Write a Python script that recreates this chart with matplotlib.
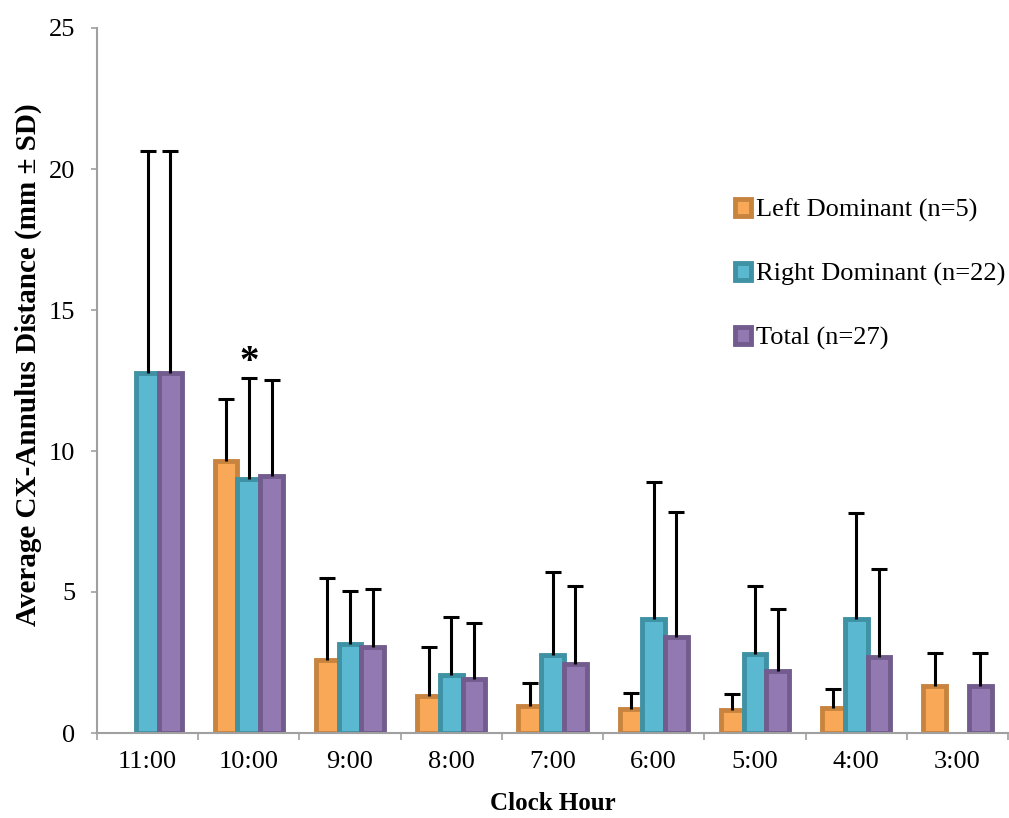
import matplotlib
matplotlib.use("Agg")
import matplotlib.pyplot as plt
import numpy as np

categories = ["11:00", "10:00", "9:00", "8:00", "7:00", "6:00", "5:00", "4:00", "3:00"]
left_mean = [np.nan, 9.65, 2.6, 1.3, 0.95, 0.85, 0.8, 0.9, 1.65]
left_sd = [np.nan, 2.2, 2.9, 1.75, 0.83, 0.58, 0.6, 0.65, 1.2]
right_mean = [12.75, 9.0, 3.15, 2.05, 2.75, 4.05, 2.8, 4.05, np.nan]
right_sd = [7.9, 3.6, 1.9, 2.05, 2.95, 4.85, 2.4, 3.75, np.nan]
total_mean = [12.75, 9.1, 3.05, 1.9, 2.45, 3.4, 2.2, 2.7, 1.65]
total_sd = [7.9, 3.42, 2.05, 2.0, 2.75, 4.45, 2.2, 3.1, 1.2]
series_labels = ["Left Dominant (n=5)", "Right Dominant (n=22)", "Total (n=27)"]

plt.rcParams['font.family'] = ['Liberation Serif', 'DejaVu Serif']

fig = plt.figure(figsize=(10.09, 8.18), dpi=100)
ax = fig.add_axes([97/1009, 1-733/818, 911/1009, 705/818])

x = np.arange(len(categories))
w = 0.225
faces = ["#F9A857", "#5BB8D1", "#9279B1"]
edges = ["#C8843E", "#3F91A4", "#715C8D"]
data = [(left_mean, left_sd), (right_mean, right_sd), (total_mean, total_sd)]
offs = [-0.225, 0.0, 0.225]
for (m, s), off, fc, ec, lab in zip(data, offs, faces, edges, series_labels):
    m = np.array(m, dtype=float); s = np.array(s, dtype=float)
    ax.bar(x + off, m, width=w, color=fc, edgecolor=ec, linewidth=3.5, label=lab, zorder=2)
    ok = ~np.isnan(m)
    ax.vlines((x + off)[ok], m[ok], (m + s)[ok], color='black', linewidth=2.2, zorder=3)
    ax.plot((x + off)[ok], (m + s)[ok], linestyle='none', marker='_', markersize=12,
            markeredgewidth=2.2, color='black', zorder=3)

ax.text(1, 12.5, "*", ha='center', va='bottom', fontsize=28, fontweight='bold')

ax.set_xlim(-0.5, len(categories) - 0.5)
ax.set_ylim(0, 25)
ax.set_yticks([0, 5, 10, 15, 20, 25])
ax.set_xticks(x)
ax.set_xticklabels(categories)
ax.set_xticks(np.arange(-0.5, len(categories) - 0.4, 1), minor=True)
ax.tick_params(axis='x', which='major', length=0, labelsize=19, pad=13)
ax.tick_params(axis='x', which='minor', length=5, width=1.2, color='#A0A0A0')
ax.tick_params(axis='y', length=4.5, width=1.2, color='#A0A0A0', labelsize=19, pad=11)

for side in ['top', 'right']:
    ax.spines[side].set_visible(False)
for side in ['left', 'bottom']:
    ax.spines[side].set_color('#A0A0A0')
    ax.spines[side].set_linewidth(1.5)

ax.set_ylabel("Average CX-Annulus Distance (mm ± SD)", fontsize=21, fontweight='bold')
ax.yaxis.set_label_coords(-0.060, 0.522)
ax.set_xlabel("Clock Hour", fontsize=18, fontweight='bold')
ax.xaxis.set_label_coords(0.5, -0.084)

leg = ax.legend(loc='upper left', bbox_to_anchor=(0.689, 0.773), frameon=False, fontsize=19,
                handlelength=0.6, handleheight=0.6, handletextpad=0.2, labelspacing=1.55,
                borderaxespad=0)

fig.savefig("out.png", dpi=100)
